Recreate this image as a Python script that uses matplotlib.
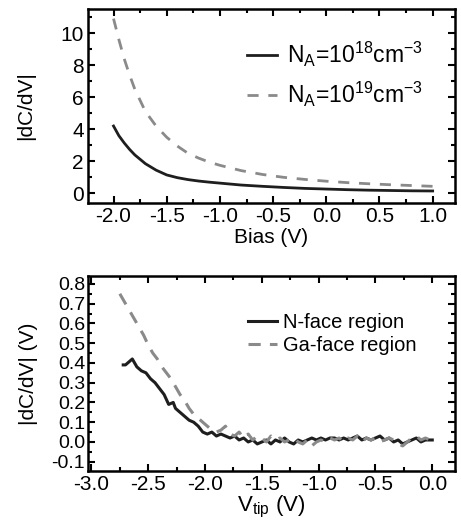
import numpy as np
import matplotlib
matplotlib.use('Agg')
import matplotlib.pyplot as plt
from matplotlib.ticker import MultipleLocator

plt.rcParams['font.family'] = ['Liberation Sans', 'DejaVu Sans']
plt.rcParams['mathtext.fontset'] = 'custom'
plt.rcParams['mathtext.rm'] = 'Liberation Sans'

# top panel: |dC/dV| vs bias for two doping levels
bias = [-2.0, -1.95, -1.9, -1.85, -1.8, -1.7, -1.6, -1.5, -1.4, -1.3, -1.2, -1.1, -1.0,
        -0.8, -0.6, -0.4, -0.2, 0.0, 0.2, 0.4, 0.6, 0.8, 1.0]
dcdv_1e18 = [4.2, 3.6, 3.15, 2.75, 2.4, 1.85, 1.45, 1.15, 0.98, 0.86, 0.77, 0.7, 0.64,
             0.52, 0.44, 0.37, 0.31, 0.27, 0.23, 0.2, 0.18, 0.16, 0.15]
dcdv_1e19 = [10.9, 9.6, 8.4, 7.4, 6.5, 5.1, 4.2, 3.5, 2.95, 2.5, 2.2, 1.95, 1.75,
             1.42, 1.18, 1.0, 0.87, 0.76, 0.67, 0.6, 0.54, 0.49, 0.44]

# bottom panel: measured |dC/dV| vs tip voltage
vtip_n = [-2.72, -2.70, -2.66, -2.64, -2.60, -2.56, -2.52, -2.48, -2.44, -2.40, -2.36, -2.32,
          -2.28, -2.26, -2.22, -2.18, -2.14, -2.10, -2.06, -2.02, -1.98, -1.94, -1.90, -1.86,
          -1.82, -1.78, -1.74, -1.70, -1.66, -1.62, -1.58, -1.54, -1.50, -1.46, -1.42, -1.38,
          -1.34, -1.30, -1.26, -1.22, -1.18, -1.14, -1.10, -1.06, -1.02, -0.98, -0.94, -0.90,
          -0.86, -0.82, -0.78, -0.74, -0.70, -0.66, -0.62, -0.58, -0.54, -0.50, -0.46, -0.42,
          -0.38, -0.34, -0.30, -0.26, -0.22, -0.18, -0.14, -0.10, -0.06, -0.02, 0.0]
nface = [0.39, 0.39, 0.41, 0.42, 0.38, 0.36, 0.35, 0.32, 0.30, 0.27, 0.24, 0.19,
         0.20, 0.17, 0.15, 0.13, 0.11, 0.10, 0.08, 0.05, 0.04, 0.05, 0.03, 0.04,
         0.03, 0.02, 0.03, 0.01, 0.02, 0.00, 0.01, -0.01, 0.00, 0.01, -0.01, 0.01,
         0.00, 0.02, 0.00, -0.01, 0.01, 0.00, 0.01, 0.02, 0.01, 0.02, 0.01, 0.02,
         0.02, 0.01, 0.02, 0.01, 0.02, 0.03, 0.01, 0.02, 0.01, 0.02, 0.03, 0.01,
         0.02, 0.00, 0.01, -0.01, 0.00, 0.01, 0.02, 0.00, 0.01, 0.01, 0.01]

vtip_ga = [-2.75, -2.70, -2.66, -2.62, -2.58, -2.54, -2.50, -2.46, -2.42, -2.38, -2.34, -2.30,
           -2.26, -2.22, -2.18, -2.14, -2.10, -2.06, -2.02, -1.98, -1.94, -1.90, -1.86, -1.82,
           -1.78, -1.74, -1.70, -1.66, -1.62, -1.58, -1.54, -1.50, -1.46, -1.42, -1.38, -1.34,
           -1.30, -1.26, -1.22, -1.18, -1.14, -1.10, -1.06, -1.02, -0.98, -0.94, -0.90, -0.86,
           -0.82, -0.78, -0.74, -0.70, -0.66, -0.62, -0.58, -0.54, -0.50, -0.46, -0.42, -0.38,
           -0.34, -0.30, -0.26, -0.22, -0.18, -0.14, -0.10, -0.06, -0.02, 0.0]
gaface = [0.75, 0.70, 0.66, 0.62, 0.58, 0.54, 0.49, 0.45, 0.42, 0.38, 0.35, 0.32,
          0.28, 0.24, 0.21, 0.17, 0.14, 0.12, 0.10, 0.08, 0.06, 0.05, 0.06, 0.08,
          0.04, 0.03, 0.05, 0.02, 0.04, 0.01, 0.03, 0.02, 0.00, 0.03, 0.01, 0.02,
          0.00, 0.01, 0.02, 0.00, -0.01, 0.01, -0.02, 0.00, 0.01, 0.00, 0.02, 0.01,
          0.02, 0.00, 0.02, 0.01, 0.03, 0.00, 0.02, 0.01, 0.02, 0.00, 0.01, 0.02,
          0.01, -0.01, -0.02, 0.00, 0.02, 0.03, 0.01, 0.02, 0.01, 0.00]

fig = plt.figure(figsize=(4.61, 5.27), dpi=100)
W, H = 461, 527
ax1 = fig.add_axes([88 / W, 1 - 203 / H, (455 - 88) / W, (203 - 9) / H])
ax2 = fig.add_axes([88 / W, 1 - 471 / H, (455 - 88) / W, (471 - 276) / H])

dark = '#1e1e1e'
grey = '#8a8a8a'
fs = 15

ax1.plot(bias, dcdv_1e18, color=dark, lw=2.0,
         label=r'N$_\mathregular{A}$=10$^\mathregular{18}$cm$^\mathregular{-3}$')
ax1.plot(bias, dcdv_1e19, color=grey, lw=2.0, dashes=(4, 3.5),
         label=r'N$_\mathregular{A}$=10$^\mathregular{19}$cm$^\mathregular{-3}$')
ax1.set_xlim(-2.24, 1.21)
ax1.set_ylim(-0.6, 11.5)
ax1.xaxis.set_major_locator(MultipleLocator(0.5))
ax1.xaxis.set_minor_locator(MultipleLocator(0.25))
ax1.yaxis.set_major_locator(MultipleLocator(2))
ax1.yaxis.set_minor_locator(MultipleLocator(1))
ax1.set_xticks([-2.0, -1.5, -1.0, -0.5, 0.0, 0.5, 1.0])
ax1.set_xticklabels(['-2.0', '-1.5', '-1.0', '-0.5', '0.0', '0.5', '1.0'])
ax1.set_xlabel('Bias (V)', fontsize=fs, labelpad=1)
ax1.set_ylabel('|dC/dV|', fontsize=fs, labelpad=18)
ax1.legend(loc='upper left', bbox_to_anchor=(0.433, 0.84), frameon=False, fontsize=16.5,
           handlelength=1.3, handletextpad=0.45, labelspacing=0.45,
           borderpad=0, borderaxespad=0)

ax2.plot(vtip_n, nface, color=dark, lw=2.2, label='N-face region')
ax2.plot(vtip_ga, gaface, color=grey, lw=2.2, dashes=(4, 3), label='Ga-face region')
ax2.set_xlim(-3.03, 0.2)
ax2.set_ylim(-0.147, 0.84)
ax2.xaxis.set_major_locator(MultipleLocator(0.5))
ax2.xaxis.set_minor_locator(MultipleLocator(0.25))
ax2.yaxis.set_major_locator(MultipleLocator(0.1))
ax2.yaxis.set_minor_locator(MultipleLocator(0.05))
ax2.set_xticks([-3.0, -2.5, -2.0, -1.5, -1.0, -0.5, 0.0])
ax2.set_xticklabels(['-3.0', '-2.5', '-2.0', '-1.5', '-1.0', '-0.5', '0.0'])
ax2.set_yticks([-0.1, 0.0, 0.1, 0.2, 0.3, 0.4, 0.5, 0.6, 0.7, 0.8])
ax2.set_yticklabels(['-0.1', '0.0', '0.1', '0.2', '0.3', '0.4', '0.5', '0.6', '0.7', '0.8'])
ax2.set_xlabel(r'V$_\mathregular{tip}$ (V)', fontsize=fs + 1, labelpad=0)
ax2.set_ylabel('|dC/dV| (V)', fontsize=fs, labelpad=10)
ax2.legend(loc='upper left', bbox_to_anchor=(0.436, 0.81), frameon=False, fontsize=14.5,
           handlelength=1.45, handletextpad=0.3, labelspacing=0.22,
           borderpad=0, borderaxespad=0)

for ax in (ax1, ax2):
    for s in ax.spines.values():
        s.set_linewidth(1.8)
    ax.tick_params(which='both', direction='in', top=True, right=True, width=1.5)
    ax.tick_params(which='major', length=5, labelsize=fs, pad=3)
    ax.tick_params(which='minor', length=3)
ax2.tick_params(axis='y', which='major', labelsize=14, pad=2)

fig.savefig('out.png', dpi=100)
